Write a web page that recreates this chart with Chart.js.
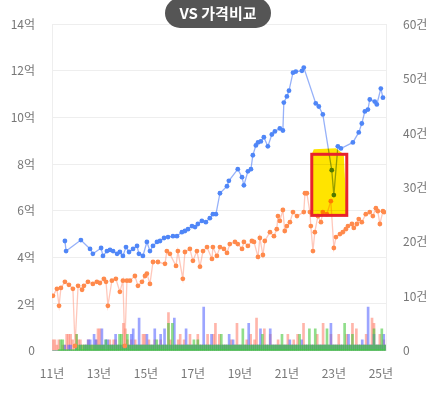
<!DOCTYPE html>
<html>
<head>
<meta charset="utf-8">
<script src="https://cdn.jsdelivr.net/npm/chart.js@4/dist/chart.umd.min.js"></script>
<style>
  body { margin: 0; background: #fff; }
  #wrap { position: relative; width: 430px; height: 397px; }
  #pill {
    position: absolute; left: 165px; top: -2px; width: 106px; height: 30px;
    border-radius: 15px; background: #555; color: #fff;
    font: bold 15px 'Noto Sans CJK KR', sans-serif; line-height: 30px; text-align: center;
    z-index: 2;
  }
</style>
</head>
<body>
<div id="wrap">
  <div id="pill">VS 가격비교</div>
  <canvas id="chart"></canvas>
</div>
<script>
const xTickYears = [2011, 2013, 2015, 2017, 2019, 2021, 2023, 2025];

// 가격 (억) - blue
const blueYears = [2011.55, 2011.60, 2012.23, 2012.62, 2012.74, 2013.09, 2013.17, 2013.34, 2013.47, 2013.60,
  2013.77, 2013.89, 2014.02, 2014.15, 2014.28, 2014.45, 2014.62, 2014.70, 2014.87, 2015.04,
  2015.17, 2015.30, 2015.47, 2015.60, 2015.77, 2015.94, 2016.15, 2016.32, 2016.53, 2016.66,
  2016.79, 2016.96, 2017.09, 2017.21, 2017.38, 2017.55, 2017.72, 2017.85, 2017.98, 2018.15,
  2018.45, 2018.53, 2018.91, 2019.09, 2019.17, 2019.34, 2019.47, 2019.55, 2019.68, 2019.77,
  2019.89, 2020.02, 2020.19, 2020.36, 2020.49, 2020.70, 2020.83, 2020.87, 2021.00, 2021.09,
  2021.26, 2021.38, 2021.64, 2021.72, 2022.23, 2022.36, 2022.53, 2022.91, 2023.00, 2023.17,
  2023.30, 2023.81, 2024.06, 2024.19, 2024.32, 2024.45, 2024.53, 2024.74, 2024.83, 2025.00, 2025.09];
const blueValues = [4.70, 4.27, 4.74, 4.36, 4.15, 4.40, 4.06, 4.27, 4.32, 4.27,
  4.15, 4.23, 4.06, 4.44, 4.23, 4.36, 4.49, 4.15, 4.06, 4.66,
  4.27, 4.49, 4.66, 4.70, 4.83, 4.87, 4.91, 4.91, 5.08, 5.13,
  5.21, 5.34, 5.30, 5.43, 5.56, 5.51, 5.68, 5.85, 5.85, 6.75,
  7.05, 7.28, 7.78, 7.44, 7.09, 7.69, 7.78, 8.38, 8.80, 8.93,
  8.97, 9.15, 8.76, 9.27, 9.40, 9.53, 9.44, 10.64, 10.90, 11.15,
  11.92, 11.97, 12.00, 12.14, 10.60, 10.47, 10.13, 7.74, 6.67, 8.76,
  8.67, 8.93, 9.36, 9.74, 10.26, 10.34, 10.77, 10.68, 10.56, 11.24, 10.85];

// 가격 (억) - orange
const orangeYears = [2011.04, 2011.21, 2011.30, 2011.38, 2011.55, 2011.72, 2011.89, 2011.98, 2012.11, 2012.28,
  2012.36, 2012.53, 2012.74, 2012.91, 2013.04, 2013.21, 2013.30, 2013.38, 2013.55, 2013.72,
  2013.89, 2014.02, 2014.10, 2014.19, 2014.32, 2014.53, 2014.66, 2014.83, 2014.96, 2015.04,
  2015.17, 2015.30, 2015.51, 2015.81, 2015.89, 2016.02, 2016.28, 2016.36, 2016.57, 2016.66,
  2016.87, 2017.00, 2017.17, 2017.30, 2017.43, 2017.60, 2017.81, 2017.85, 2018.02, 2018.15,
  2018.32, 2018.45, 2018.57, 2018.79, 2018.91, 2019.09, 2019.17, 2019.34, 2019.51, 2019.60,
  2019.77, 2019.85, 2019.98, 2020.06, 2020.28, 2020.45, 2020.57, 2020.62, 2020.70, 2020.83,
  2020.91, 2021.00, 2021.13, 2021.26, 2021.43, 2021.72, 2021.77, 2021.85, 2021.98, 2022.02,
  2022.11, 2022.19, 2022.32, 2022.45, 2022.53, 2022.70, 2022.87, 2023.00, 2023.09, 2023.26,
  2023.38, 2023.51, 2023.60, 2023.77, 2023.85, 2023.98, 2024.06, 2024.19, 2024.36, 2024.53,
  2024.66, 2024.79, 2024.87, 2024.96, 2025.09, 2025.13];
const orangeValues = [2.35, 2.65, 1.92, 2.69, 2.95, 2.82, 2.65, 0.2, 2.78, 2.61,
  2.78, 2.95, 2.86, 2.95, 2.90, 3.08, 2.95, 1.92, 3.00, 3.08,
  2.52, 3.00, 0.2, 3.00, 3.00, 3.20, 2.78, 2.95, 3.20, 3.30,
  2.86, 3.80, 3.80, 3.72, 4.27, 4.15, 3.63, 4.27, 3.08, 4.23,
  4.36, 3.85, 4.27, 3.60, 4.27, 4.44, 3.93, 4.44, 4.06, 4.44,
  4.36, 4.19, 4.57, 4.66, 4.57, 4.36, 4.66, 4.49, 4.70, 4.66,
  4.02, 4.83, 4.10, 4.70, 5.08, 4.91, 5.21, 5.77, 5.56, 6.03,
  5.13, 5.34, 5.51, 5.94, 5.77, 5.94, 6.75, 6.75, 5.94, 5.34,
  4.27, 5.08, 5.77, 5.51, 5.94, 5.85, 6.41, 4.40, 4.87, 5.00,
  5.08, 5.21, 5.34, 5.43, 5.26, 5.43, 5.64, 5.51, 5.85, 5.94,
  5.77, 6.11, 5.98, 5.43, 5.98, 5.94];

// green base line
const greenYears = [2011.25, 2025.2];
const greenValues = [0, 0];

// 거래량 (건), monthly from 2011-01
const barStartYear = 2011;
const redCounts = [
  2,2,1,2,0,1,1,3,3,3,2,1,
  3,2,2,1,1,1,2,1,1,1,2,4,
  4,1,1,0,1,2,1,2,2,1,1,1,
  5,4,2,1,2,1,2,1,1,1,3,3,
  1,2,1,1,2,1,1,2,1,1,1,7,
  2,1,1,1,2,3,1,2,1,1,3,1,
  1,1,3,1,1,1,1,3,1,1,3,5,
  1,3,1,1,1,1,1,2,1,1,5,1,
  1,1,1,2,1,3,1,2,6,1,1,1,
  4,1,1,3,1,1,1,2,1,1,1,1,
  3,1,1,2,1,3,1,1,5,1,1,1,
  1,1,1,3,1,1,5,1,1,1,3,1,
  1,1,3,1,1,1,3,1,1,5,1,4,
  1,1,1,1,3,1,1,6,5,1,1,3,
  1,2,1];
const blueCounts = [
  0,0,0,0,0,0,1,0,1,1,0,0,
  1,0,1,0,1,1,2,2,0,3,2,1,
  1,4,1,2,2,1,1,1,3,1,1,1,
  1,1,1,1,3,4,1,1,6,1,1,1,
  3,1,1,1,4,1,1,3,1,4,1,1,
  1,1,6,1,1,1,1,1,4,1,1,1,
  1,1,1,1,1,8,1,1,1,3,1,1,
  1,1,1,1,1,1,3,1,2,1,1,1,
  1,1,1,1,5,1,1,1,1,1,4,1,
  1,1,1,4,1,1,1,1,1,1,1,1,
  1,2,1,1,1,1,1,2,1,1,1,1,
  1,1,1,1,1,1,1,1,1,1,5,1,
  1,1,1,1,1,1,1,3,1,1,1,1,
  1,1,2,1,1,8,1,1,3,1,1,1,
  1,3,1];
const greenCounts = [
  0,0,0,0,2,2,0,0,0,0,0,0,
  3,1,1,1,1,1,1,1,1,1,1,1,
  1,1,1,2,1,1,1,1,1,1,3,3,
  1,1,3,1,1,1,1,1,1,1,1,1,
  1,1,1,1,1,2,1,1,1,1,1,5,
  1,5,1,1,1,1,1,1,1,1,1,1,
  2,1,2,1,1,1,1,1,1,1,1,1,
  1,1,3,1,1,1,1,1,1,1,1,1,
  1,4,1,1,1,1,1,1,1,1,1,3,
  1,1,1,1,1,1,1,1,1,3,1,1,
  1,1,1,1,1,1,3,1,1,1,1,4,
  1,1,4,1,1,1,1,1,4,1,1,1,
  1,1,1,1,1,5,1,1,1,3,1,1,
  1,1,1,1,1,1,1,1,4,1,1,1,
  4,1,1];

// highlighted drop (years / 억)
const highlightBox = { from: 2022.06, to: 2023.55, low: 5.8, high: 8.42 };

const pts = (xs, ys) => xs.map((x, i) => ({ x: x, y: ys[i] }));
const monthly = counts => counts.map((v, i) => ({ x: barStartYear + (i + 0.5) / 12, y: v }));

// yellow marker (multiply, so the blue line turns green under it) + red frame
const highlightPlugin = {
  id: 'highlight',
  afterDatasetsDraw(chart) {
    const { ctx, scales: { x, y } } = chart;
    const l = x.getPixelForValue(highlightBox.from);
    const r = x.getPixelForValue(highlightBox.to);
    const t = y.getPixelForValue(highlightBox.high);
    const b = y.getPixelForValue(highlightBox.low);
    ctx.save();
    ctx.globalCompositeOperation = 'multiply';
    ctx.fillStyle = '#ffe400';
    ctx.beginPath();
    ctx.moveTo(l + 2, t - 5);
    ctx.lineTo(l + 24, t - 6);
    ctx.lineTo(r - 3, t);
    ctx.lineTo(r, b);
    ctx.lineTo(l, b);
    ctx.lineTo(l, t);
    ctx.closePath();
    ctx.fill();
    ctx.restore();
    ctx.save();
    ctx.strokeStyle = '#e8232b';
    ctx.lineWidth = 3;
    ctx.strokeRect(l, t, r - l, b - t);
    ctx.restore();
  }
};

const tickFont = { family: "'Noto Sans CJK KR', sans-serif", size: 12 };

new Chart(document.getElementById('chart'), {
  type: 'bar',
  data: {
    datasets: [
      {
        type: 'line', data: pts(blueYears, blueValues), yAxisID: 'y', order: 0,
        borderColor: 'rgba(80,125,245,0.6)', borderWidth: 1.3,
        pointRadius: 2.4, pointBackgroundColor: '#4f86f7', pointBorderWidth: 0, tension: 0
      },
      {
        type: 'line', data: pts(orangeYears, orangeValues), yAxisID: 'y', order: 1,
        borderColor: 'rgba(255,145,120,0.5)', borderWidth: 1.3,
        pointRadius: 2.4, pointBackgroundColor: '#ff8a4c', pointBorderWidth: 0, tension: 0
      },
      {
        type: 'line', data: pts(greenYears, greenValues), yAxisID: 'y', order: 2,
        borderColor: '#3ad13a', borderWidth: 2, pointRadius: 0
      },
      { data: monthly(redCounts), yAxisID: 'y1', order: 5, backgroundColor: 'rgba(255,120,100,0.55)' },
      { data: monthly(blueCounts), yAxisID: 'y1', order: 4, backgroundColor: 'rgba(90,105,255,0.6)' },
      { data: monthly(greenCounts), yAxisID: 'y1', order: 3, backgroundColor: 'rgba(70,200,60,0.6)' }
    ]
  },
  options: {
    responsive: true,
    maintainAspectRatio: false,
    animation: false,
    layout: { padding: { left: 0, right: 0, top: 18, bottom: 8 } },
    datasets: { bar: { grouped: false, barThickness: 2 } },
    plugins: { legend: { display: false }, tooltip: { enabled: false } },
    scales: {
      x: {
        type: 'linear', min: 2011, max: 2025.22, offset: false,
        afterBuildTicks: s => { s.ticks = xTickYears.map(v => ({ value: v })); },
        grid: { display: false, offset: false },
        border: { display: false },
        ticks: { color: '#777', font: tickFont, padding: 8, maxRotation: 0,
          callback: v => String(v % 100).padStart(2, '0') + '년' }
      },
      y: {
        position: 'left', min: 0, max: 14,
        afterFit: s => { s.width = 52; },
        grid: { color: '#eeeeee', drawTicks: false },
        border: { color: '#eeeeee' },
        ticks: { stepSize: 2, color: '#777', font: tickFont, padding: 17,
          callback: v => v === 0 ? '0' : v + '억' }
      },
      y1: {
        position: 'right', min: 0, max: 60,
        afterFit: s => { s.width = 44; },
        grid: { display: false, drawTicks: false },
        border: { color: '#eeeeee' },
        ticks: { stepSize: 10, color: '#777', font: tickFont, padding: 17,
          callback: v => v === 0 ? '0' : v + '건' }
      }
    }
  },
  plugins: [highlightPlugin]
});
</script>
</body>
</html>
